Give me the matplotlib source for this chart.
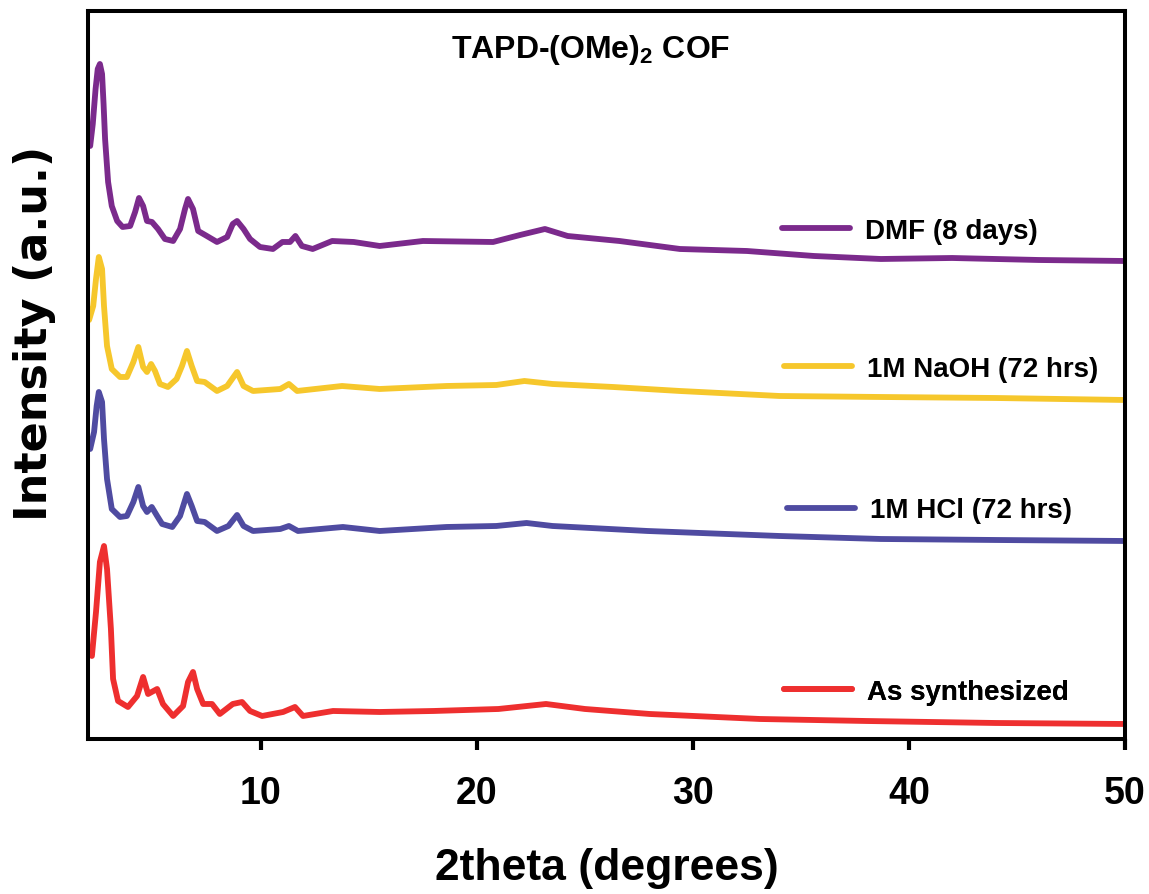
import matplotlib
matplotlib.use("Agg")
import matplotlib.pyplot as plt
from matplotlib.lines import Line2D

plt.rcParams["font.family"] = ["Liberation Sans", "DejaVu Sans"]
plt.rcParams["font.weight"] = "bold"
plt.rcParams["mathtext.fontset"] = "custom"
plt.rcParams["mathtext.rm"] = "Liberation Sans:bold"
plt.rcParams["mathtext.bf"] = "Liberation Sans:bold"

# PXRD patterns (stacked, arbitrary units)
dmf_x = [2.0, 2.1, 2.22, 2.35, 2.45, 2.55, 2.65, 2.72, 2.79, 2.93, 3.1, 3.35, 3.6, 3.95,
         4.18, 4.36, 4.55, 4.73, 4.96, 5.24, 5.56, 5.94, 6.26, 6.49, 6.63, 6.86, 7.1,
         7.5, 7.97, 8.44, 8.7, 8.9, 9.2, 9.5, 9.96, 10.56, 11.0, 11.35, 11.6, 11.9,
         12.4, 13.3, 14.3, 15.5, 17.5, 20.75, 22.0, 23.15, 24.2, 26.6, 29.4, 32.5,
         35.6, 38.7, 42.0, 46.0, 50.0]
dmf_y = [607, 593, 615, 650, 670, 675, 665, 635, 600, 557, 533, 518, 512, 513,
         527, 541, 533, 518, 517, 510, 500, 498, 510, 530, 540, 530, 508,
         503, 497, 502, 515, 518, 510, 500, 492, 490, 497, 497, 503, 493,
         490, 498, 497, 493, 498, 497, 504, 510, 503, 498, 490, 488,
         483, 480, 481, 479, 478]

naoh_x = [2.0, 2.05, 2.24, 2.37, 2.5, 2.65, 2.74, 2.88, 3.1, 3.48, 3.8, 4.1, 4.33, 4.55,
          4.73, 4.92, 5.1, 5.33, 5.7, 6.1, 6.35, 6.58, 6.8, 7.05, 7.4, 7.97, 8.44, 8.9,
          9.2, 9.64, 10.9, 11.3, 11.68, 13.76, 15.5, 18.6, 20.9, 22.2, 23.5, 26.3,
          29.4, 34.0, 38.7, 44.0, 50.0]
naoh_y = [423, 419, 433, 460, 482, 470, 433, 393, 370, 362, 362, 377, 392, 372,
          367, 375, 368, 355, 352, 360, 373, 388, 373, 358, 357, 348, 353, 367,
          353, 348, 350, 355, 348, 353, 350, 353, 354, 358, 355, 352,
          348, 343, 342, 341, 339]

hcl_x = [2.0, 2.1, 2.28, 2.4, 2.5, 2.65, 2.74, 2.88, 3.1, 3.48, 3.8, 4.1, 4.33, 4.55,
         4.73, 4.95, 5.2, 5.43, 5.9, 6.26, 6.58, 6.8, 7.05, 7.4, 7.97, 8.5, 8.9, 9.2,
         9.64, 10.9, 11.3, 11.72, 13.8, 15.5, 18.6, 20.9, 22.3, 23.5, 27.9, 34.0,
         38.7, 44.0, 50.0]
hcl_y = [300, 290, 307, 333, 347, 337, 300, 260, 230, 222, 223, 237, 252, 233,
         227, 232, 223, 215, 212, 223, 245, 233, 218, 217, 208, 213, 224, 213,
         208, 210, 213, 208, 212, 208, 212, 213, 216, 213, 208, 203,
         200, 199, 198]

asyn_x = [2.0, 2.18, 2.37, 2.55, 2.74, 2.88, 3.06, 3.16, 3.39, 3.85, 4.27, 4.55, 4.78,
          5.2, 5.47, 5.94, 6.4, 6.63, 6.86, 7.05, 7.33, 7.74, 8.1, 8.7, 9.13, 9.5,
          10.06, 11.03, 11.58, 11.95, 13.34, 15.5, 18.0, 21.0, 23.2, 25.0, 28.0,
          33.1, 38.0, 44.0, 50.0]
asyn_y = [90, 83, 127, 177, 193, 170, 110, 60, 38, 32, 43, 62, 45,
          50, 35, 23, 33, 57, 67, 50, 35, 35, 25, 35, 37, 28,
          23, 27, 32, 23, 28, 27, 28, 30, 35, 30, 25,
          20, 18, 16, 15]

series = [
    ("DMF (8 days)", dmf_x, dmf_y, "#7B2A8C"),
    ("1M NaOH (72 hrs)", naoh_x, naoh_y, "#F6C72C"),
    ("1M HCl (72 hrs)", hcl_x, hcl_y, "#4F4BA1"),
    ("As synthesized", asyn_x, asyn_y, "#EE2F2F"),
]

# where each label sits (axes fraction)
label_pos = [(0.669, 0.698), (0.671, 0.508), (0.674, 0.314), (0.671, 0.0645)]

xticks = [10, 20, 30, 40, 50]

fig = plt.figure(figsize=(11.49, 8.95), dpi=100)
ax = fig.add_axes([0.0766, 0.1732, 0.9025, 0.8134])

for (name, xs, ys, col) in series:
    ax.plot(xs, ys, color=col, lw=4.2, solid_joinstyle="round", solid_capstyle="round")

for (name, xs, ys, col), (lx, ly) in zip(series, label_pos):
    h = Line2D([], [], color=col, lw=4.2, solid_capstyle="round")
    leg = ax.legend([h], [name], loc="center left", bbox_to_anchor=(lx, ly),
                    frameon=False, borderpad=0, borderaxespad=0,
                    handlelength=2.45, handletextpad=0.55,
                    prop={"family": "Liberation Sans", "weight": "bold", "size": 20})
    ax.add_artist(leg)

ax.set_xlim(2, 50)
ax.set_ylim(0, 728)
ax.set_xticks(xticks)
ax.set_xticklabels([str(t) for t in xticks])
ax.set_yticks([])
ax.tick_params(axis="x", direction="out", length=8, width=3, pad=18, labelsize=27)
for lab in ax.get_xticklabels():
    lab.set_fontweight("bold")
for sp in ax.spines.values():
    sp.set_linewidth(2.9)

ax.set_xlabel("2theta (degrees)", fontsize=32, fontweight="bold", labelpad=26)
ax.set_ylabel("Intensity (a.u.)", fontsize=32, fontweight="bold",
              family=["DejaVu Sans"])
ax.yaxis.set_label_coords(-0.031, 0.559)

ax.text(0.485, 0.948, r"TAPD-(OMe)$_\mathbf{2}$ COF", transform=ax.transAxes,
        ha="center", va="center", fontsize=23, fontweight="bold")

fig.savefig("out.png", dpi=100)
